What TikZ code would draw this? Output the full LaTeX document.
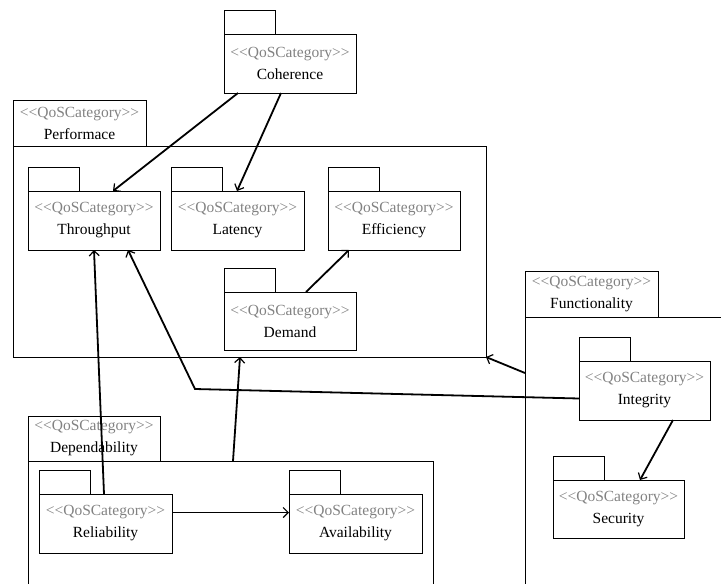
\documentclass[tikz,border=0pt]{standalone}
\usepackage{fontspec}
\setmainfont{Liberation Serif}
\usetikzlibrary{arrows.meta}
\definecolor{stereo}{RGB}{130,130,130}
\newcommand\pkgfont{\fontsize{15.5}{22}\selectfont}
\newcommand\stt{\textcolor{stereo}{<{}<QoSCategory>{}>}}
\tikzset{
  pkgbody/.style={draw, line width=1pt, outer sep=0pt, inner sep=0pt, anchor=north west, align=center, font=\pkgfont},
  pkgline/.style={draw, line width=1pt},
  conn/.style={line width=1.8pt, -{Straight Barb[length=5pt,width=10pt,line width=1.2pt]}},
  thinconn/.style={line width=1pt, -{Straight Barb[length=5pt,width=10pt,line width=1.2pt]}}
}
\newcommand\smallpkg[6]{%
  \node[pkgbody, minimum width=#4pt, minimum height=#5pt] (#1) at (#2,#3) {\stt\\#6};
  \draw[pkgline] (#1.north west) rectangle ++(51,-24);}
\begin{document}
\begin{tikzpicture}[x=1pt,y=-1pt]
\useasboundingbox (0,0) rectangle (721,584);
\clip (0,0) rectangle (721,584);
% container packages
\node[pkgbody, minimum width=133pt, minimum height=46pt] (perftab) at (13,100) {\stt\\Performace};
\node[pkgbody, minimum width=473pt, minimum height=211pt] (perf) at (13,146) {};
\node[pkgbody, minimum width=132pt, minimum height=45pt] (deptab) at (28,416) {\stt\\Dependability};
\node[pkgbody, minimum width=405pt, minimum height=150pt] (dep) at (28,461) {};
\node[pkgbody, minimum width=133pt, minimum height=46pt] (functab) at (525,271) {\stt\\Functionality};
\node[pkgbody, minimum width=220pt, minimum height=300pt] (func) at (525,317) {};
% small packages
\smallpkg{coh}{224}{34}{132}{59}{Coherence}
\smallpkg{thr}{28}{191}{132}{59}{Throughput}
\smallpkg{lat}{171}{191}{133}{59}{Latency}
\smallpkg{eff}{328}{191}{132}{59}{Efficiency}
\smallpkg{dem}{224}{292}{132}{58}{Demand}
\smallpkg{int}{579}{361}{131}{59}{Integrity}
\smallpkg{sec}{553}{480}{131}{58}{Security}
\smallpkg{rel}{39}{494}{133}{59}{Reliability}
\smallpkg{ava}{289}{494}{133}{59}{Availability}
% connectors
\coordinate (bend) at (195,389);
\draw[conn] ([xshift=14pt]coh.south west) -- ([xshift=85pt]thr.north west);
\draw[conn] ([xshift=57pt]coh.south west) -- ([xshift=66pt]lat.north west);
\draw[conn] ([xshift=82pt]dem.north west) -- ([xshift=21pt]eff.south west);
\draw[conn] ([xshift=65pt]rel.north west) -- ([xshift=66pt]thr.south west);
\draw[conn] ([yshift=-8pt]int.west) -- (bend) -- ([xshift=100pt]thr.south west);
\draw[conn] ([xshift=205pt]dep.north west) -- ([xshift=227pt]perf.south west);
\draw[conn] ([yshift=-56pt]func.north west) -- (perf.south east);
\draw[conn] ([xshift=94pt]int.south west) -- ([xshift=87pt]sec.north west);
\draw[thinconn] ([yshift=11pt]rel.east) -- ([yshift=11pt]ava.west);
\end{tikzpicture}
\end{document}
